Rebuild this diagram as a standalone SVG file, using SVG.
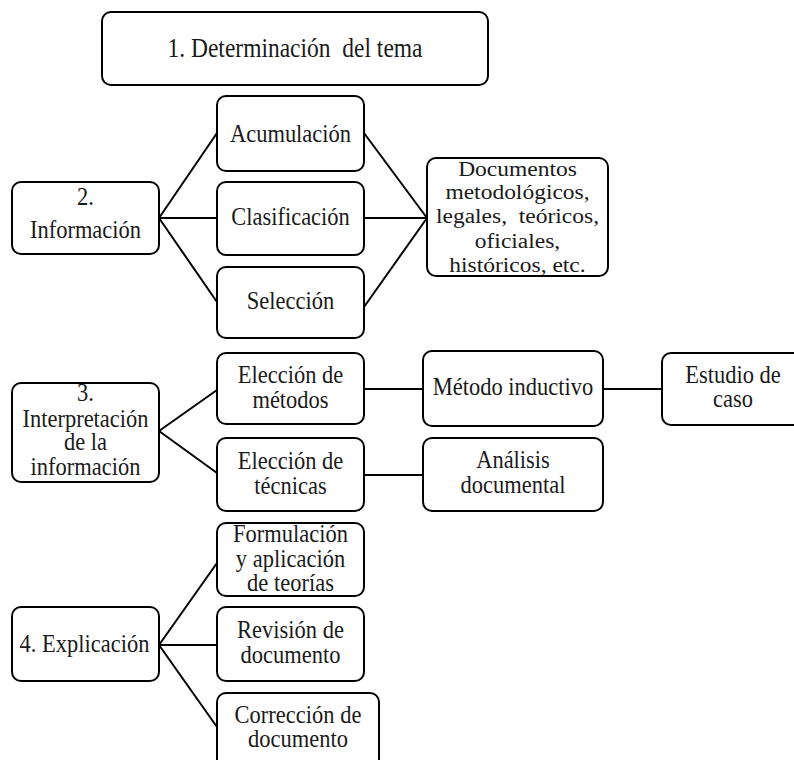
<svg xmlns="http://www.w3.org/2000/svg" width="794" height="760" viewBox="0 0 794 760">
<style>
.b{fill:#fff;stroke:#000;stroke-width:2}
.c line{stroke:#000;stroke-width:2}
text{font-family:"Liberation Serif","Times New Roman",serif;font-size:22.5px;fill:#1a1a1a;text-anchor:middle}
.d{font-size:23.5px;white-space:pre}
</style>
<rect width="794" height="760" fill="#fff"/>
<g id="connectors" class="c">
<line x1="159" y1="218" x2="217" y2="133"/>
<line x1="159" y1="218" x2="217" y2="218"/>
<line x1="159" y1="218" x2="217" y2="302"/>
<line x1="364" y1="133" x2="427" y2="218"/>
<line x1="364" y1="218" x2="427" y2="218"/>
<line x1="364" y1="307" x2="427" y2="218"/>
<line x1="159" y1="431" x2="217" y2="390"/>
<line x1="159" y1="431" x2="217" y2="473"/>
<line x1="364" y1="389" x2="423" y2="389"/>
<line x1="603" y1="389" x2="662" y2="389"/>
<line x1="364" y1="475" x2="423" y2="475"/>
<line x1="159" y1="645" x2="217" y2="563"/>
<line x1="159" y1="645" x2="217" y2="645"/>
<line x1="159" y1="645" x2="217" y2="727"/>
</g>
<g id="n1"><rect class="b" x="102" y="12" width="386" height="73" rx="9"/>
<text class="d" transform="translate(295,57) scale(1,1.15)">1. Determinación  del tema</text></g>
<g id="n2"><rect class="b" x="12" y="182" width="147" height="72" rx="9"/>
<text transform="translate(85.5,205) scale(1,1.15)"><tspan x="0" y="0">2.</tspan><tspan x="0" y="28.7">Información</tspan></text></g>
<g id="n2a"><rect class="b" x="217" y="96" width="147" height="75" rx="9"/>
<text transform="translate(290.5,141.5) scale(1,1.15)">Acumulación</text></g>
<g id="n2b"><rect class="b" x="217" y="182" width="147" height="73" rx="9"/>
<text transform="translate(290.5,225) scale(1,1.15)">Clasificación</text></g>
<g id="n2c"><rect class="b" x="217" y="267" width="147" height="71" rx="9"/>
<text transform="translate(290.5,309) scale(1,1.15)">Selección</text></g>
<g id="n2d"><rect class="b" x="427" y="158" width="181" height="118" rx="9"/>
<text class="d" transform="translate(517.5,176) scale(1,0.85)"><tspan x="0" y="0">Documentos</tspan><tspan x="0" y="27.06">metodológicos,</tspan><tspan x="0" y="55.29">legales,  teóricos,</tspan><tspan x="0" y="84.71">oficiales,</tspan><tspan x="0" y="112.94">históricos, etc.</tspan></text></g>
<g id="n3"><rect class="b" x="12" y="383" width="147" height="99" rx="9"/>
<text transform="translate(85.5,401) scale(1,1.15)"><tspan x="0" y="0">3.</tspan><tspan x="0" y="22.61">Interpretación</tspan><tspan x="0" y="42.61">de la</tspan><tspan x="0" y="64.35">información</tspan></text></g>
<g id="n3a"><rect class="b" x="217" y="353" width="147" height="71" rx="9"/>
<text transform="translate(290.5,383) scale(1,1.15)"><tspan x="0" y="0">Elección de</tspan><tspan x="0" y="21.74">métodos</tspan></text></g>
<g id="n3b"><rect class="b" x="217" y="438" width="147" height="73" rx="9"/>
<text transform="translate(290.5,469) scale(1,1.15)"><tspan x="0" y="0">Elección de</tspan><tspan x="0" y="21.74">técnicas</tspan></text></g>
<g id="n3c"><rect class="b" x="423" y="351" width="180" height="75" rx="9"/>
<text transform="translate(513,395) scale(1,1.15)">Método inductivo</text></g>
<g id="n3d"><rect class="b" x="662" y="353" width="142" height="72" rx="9"/>
<text transform="translate(733,383) scale(1,1.15)"><tspan x="0" y="0">Estudio de</tspan><tspan x="0" y="20.87">caso</tspan></text></g>
<g id="n3e"><rect class="b" x="423" y="438" width="180" height="73" rx="9"/>
<text transform="translate(513,468) scale(1,1.15)"><tspan x="0" y="0">Análisis</tspan><tspan x="0" y="21.74">documental</tspan></text></g>
<g id="n4"><rect class="b" x="12" y="607" width="147" height="74" rx="9"/>
<text transform="translate(84.5,652) scale(1,1.15)">4. Explicación</text></g>
<g id="n4a"><rect class="b" x="217" y="523" width="147" height="73" rx="9"/>
<text transform="translate(290.5,542) scale(1,1.15)"><tspan x="0" y="0">Formulación</tspan><tspan x="0" y="21.74">y aplicación</tspan><tspan x="0" y="42.61">de teorías</tspan></text></g>
<g id="n4b"><rect class="b" x="217" y="607" width="147" height="74" rx="9"/>
<text transform="translate(290.5,638) scale(1,1.15)"><tspan x="0" y="0">Revisión de</tspan><tspan x="0" y="21.74">documento</tspan></text></g>
<g id="n4c"><rect class="b" x="217" y="693" width="162" height="80" rx="9"/>
<text transform="translate(298,723) scale(1,1.15)"><tspan x="0" y="0">Corrección de</tspan><tspan x="0" y="20.87">documento</tspan></text></g>
</svg>
